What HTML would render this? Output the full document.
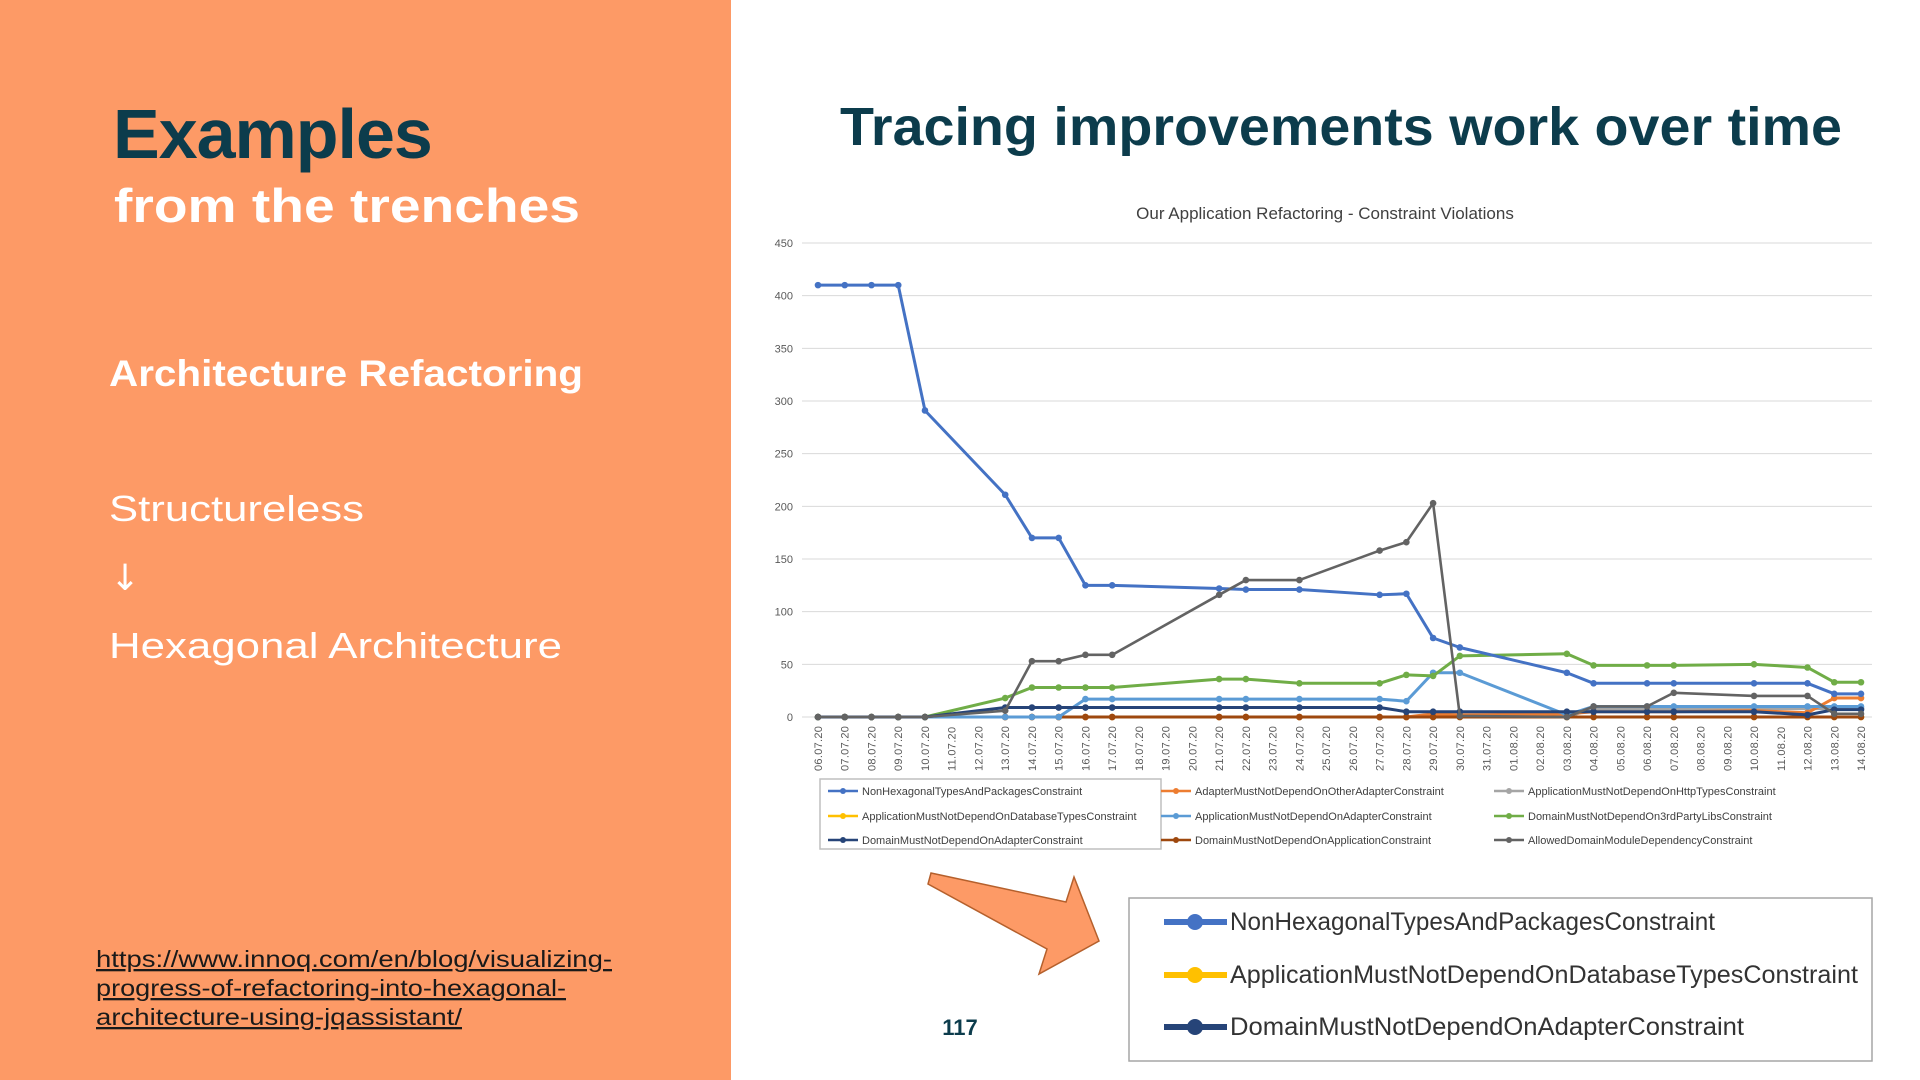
<!DOCTYPE html>
<html><head><meta charset="utf-8"><style>
html,body{margin:0;padding:0;width:1920px;height:1080px;overflow:hidden;background:#fff;font-family:"Liberation Sans",sans-serif}
</style></head><body>
<svg id="page" width="1920" height="1080" viewBox="0 0 1920 1080" xmlns="http://www.w3.org/2000/svg" font-family="Liberation Sans, sans-serif">
<rect x="0" y="0" width="731" height="1080" fill="#fd9a66"/>
<text x="113" y="158" font-size="70" font-weight="bold" fill="#0c3c4c" letter-spacing="-1">Examples</text>
<text x="114" y="222" font-size="47" font-weight="bold" fill="#fff" textLength="466" lengthAdjust="spacingAndGlyphs">from the trenches</text>
<text x="109" y="386" font-size="37" font-weight="bold" fill="#fff" textLength="474" lengthAdjust="spacingAndGlyphs">Architecture Refactoring</text>
<text x="109" y="521" font-size="36" fill="#fff" textLength="255" lengthAdjust="spacingAndGlyphs">Structureless</text>
<text x="110" y="590" font-size="36" fill="#fff" font-family="DejaVu Sans, sans-serif">↓</text>
<text x="109" y="658" font-size="36" fill="#fff" textLength="453" lengthAdjust="spacingAndGlyphs">Hexagonal Architecture</text>
<g font-size="23" fill="#1a1a1a" text-decoration="underline">
<text x="96" y="967" textLength="516" lengthAdjust="spacingAndGlyphs">https://www.innoq.com/en/blog/visualizing-</text>
<text x="96" y="996" textLength="470" lengthAdjust="spacingAndGlyphs">progress-of-refactoring-into-hexagonal-</text>
<text x="96" y="1025" textLength="366" lengthAdjust="spacingAndGlyphs">architecture-using-jqassistant/</text>
</g>
<text x="840" y="145" font-size="54" font-weight="bold" fill="#0c3c4c" textLength="1002" lengthAdjust="spacingAndGlyphs">Tracing improvements work over time</text>
<text x="1325" y="219" font-size="17" fill="#404040" text-anchor="middle">Our Application Refactoring - Constraint Violations</text>
<g id="grid"></g>
<g id="yticks" font-size="11" fill="#595959"></g>
<g id="xticks" font-size="11" fill="#595959"></g>
<g id="series"></g>
<rect x="820" y="779" width="341" height="70" fill="none" stroke="#bfbfbf" stroke-width="1.5"/>
<g id="legend" font-size="11" fill="#404040"></g>
<polygon points="931,873 1066,902 1074,877 1099,941 1039,974 1047,949 928,884" fill="#fd9a66" stroke="#b5602c" stroke-width="1.5"/>
<rect x="1129" y="898" width="743" height="163" fill="#fff" stroke="#a6a6a6" stroke-width="1.5"/>
<g id="biglegend" font-size="25" fill="#333"></g>
<text x="960" y="1035" font-size="22" font-weight="bold" fill="#0c3c4c" text-anchor="middle">117</text>
</svg>
<script>
const categories = ["06.07.20","07.07.20","08.07.20","09.07.20","10.07.20","11.07.20","12.07.20","13.07.20","14.07.20","15.07.20","16.07.20","17.07.20","18.07.20","19.07.20","20.07.20","21.07.20","22.07.20","23.07.20","24.07.20","25.07.20","26.07.20","27.07.20","28.07.20","29.07.20","30.07.20","31.07.20","01.08.20","02.08.20","03.08.20","04.08.20","05.08.20","06.08.20","07.08.20","08.08.20","09.08.20","10.08.20","11.08.20","12.08.20","13.08.20","14.08.20"];
const yTicks = [0,50,100,150,200,250,300,350,400,450];
const seriesNames = ["NonHexagonalTypesAndPackagesConstraint","AdapterMustNotDependOnOtherAdapterConstraint","ApplicationMustNotDependOnHttpTypesConstraint","ApplicationMustNotDependOnDatabaseTypesConstraint","ApplicationMustNotDependOnAdapterConstraint","DomainMustNotDependOn3rdPartyLibsConstraint","DomainMustNotDependOnAdapterConstraint","DomainMustNotDependOnApplicationConstraint","AllowedDomainModuleDependencyConstraint"];
const seriesColors = ["#4472c4","#ed7d31","#a5a5a5","#ffc000","#5b9bd5","#70ad47","#264478","#9e480e","#636363"];
const N = null;
const nonHexagonal =  [410,410,410,410,291,N,N,211,170,170,125,125,N,N,N,122,121,N,121,N,N,116,117,75,66,N,N,N,42,32,N,32,32,N,N,32,N,32,22,22];
const adapterOther =  [0,0,0,0,0,N,N,0,0,0,0,0,N,N,N,0,0,N,0,N,N,0,0,3,2,N,N,N,3,5,N,5,5,N,N,6,N,4,18,18];
const appHttp =       [0,0,0,0,0,N,N,0,0,0,0,0,N,N,N,0,0,N,0,N,N,0,0,0,0,N,N,N,0,8,N,8,8,N,N,8,N,8,8,8];
const appDatabase =   [0,0,0,0,0,N,N,0,0,0,0,0,N,N,N,0,0,N,0,N,N,0,0,0,0,N,N,N,0,0,N,0,0,N,N,0,N,0,0,0];
const appAdapter =    [0,0,0,0,0,N,N,0,0,0,17,17,N,N,N,17,17,N,17,N,N,17,15,42,42,N,N,N,2,10,N,10,10,N,N,10,N,10,10,10];
const domain3rdParty =[0,0,0,0,0,N,N,18,28,28,28,28,N,N,N,36,36,N,32,N,N,32,40,39,58,N,N,N,60,49,N,49,49,N,N,50,N,47,33,33];
const domainAdapter = [0,0,0,0,0,N,N,9,9,9,9,9,N,N,N,9,9,N,9,N,N,9,5,5,5,N,N,N,5,5,N,5,5,N,N,5,N,2,7,7];
const domainApp =     [0,0,0,0,0,N,N,0,0,0,0,0,N,N,N,0,0,N,0,N,N,0,0,0,0,N,N,N,0,0,N,0,0,N,N,0,N,0,0,0];
const allowedModule = [0,0,0,0,0,N,N,6,53,53,59,59,N,N,N,116,130,N,130,N,N,158,166,203,1,N,N,N,0,10,N,10,23,N,N,20,N,20,3,3];
const seriesValues = [nonHexagonal,adapterOther,appHttp,appDatabase,appAdapter,domain3rdParty,domainAdapter,domainApp,allowedModule];
const drawOrder = [3,2,1,7,4,5,0,6,8];
const bigLegendIdx = [0,3,6];

const NS="http://www.w3.org/2000/svg";
const X0=818,X1=1861,Y0=717,Y1=243,YMAX=450;
const xs=i=>X0+(X1-X0)*i/(categories.length-1);
const ys=v=>Y0-(Y0-Y1)*v/YMAX;
function mk(tag,attrs,parent){const e=document.createElementNS(NS,tag);for(const k in attrs)e.setAttribute(k,attrs[k]);parent.appendChild(e);return e;}
const grid=document.getElementById('grid'),yt=document.getElementById('yticks'),xt=document.getElementById('xticks');
yTicks.forEach(v=>{
  const l=mk('line',{x1:802,x2:1872,y1:ys(v),y2:ys(v),stroke:'#d9d9d9','stroke-width':1},grid);
  
  
  const t=mk('text',{x:793,y:ys(v)+4,'text-anchor':'end'},yt);t.textContent=v;
  
  
});
categories.forEach((c,i)=>{
  const x=xs(i)+4;
  const t=mk('text',{x:x,y:771,transform:`rotate(-90 ${x} 771)`,'letter-spacing':'0.3'},xt);t.textContent=c;
  
  
});
const sg=document.getElementById('series');
drawOrder.forEach(si=>{
  const vals=seriesValues[si],col=seriesColors[si];
  const pts=[];vals.forEach((v,i)=>{if(v!==null)pts.push([xs(i),ys(v)]);});
  const thin = si===8;
  const g=mk('g',{},sg);
  
  
  const p=mk('polyline',{points:pts.map(p=>p.join(',')).join(' '),fill:'none',stroke:col,'stroke-width':thin?2.6:3,'stroke-linejoin':'round'},g);
  
  
  pts.forEach(q=>{
    const c=mk('circle',{cx:q[0],cy:q[1],r:3.3,fill:col},g);
    
    
  });
});
const lg=document.getElementById('legend');
seriesNames.forEach((n,i)=>{
  const col=i%3,row=Math.floor(i/3);
  const x=[828,1161,1494][col],y=[791,816,840][row];
  const g=mk('g',{},lg);
  
  
  mk('line',{x1:x,x2:x+30,y1:y,y2:y,stroke:seriesColors[i],'stroke-width':2.5},g);
  mk('circle',{cx:x+15,cy:y,r:3,fill:seriesColors[i]},g);
  const t=mk('text',{x:x+34,y:y+4},g);t.textContent=n;
});
const bl=document.getElementById('biglegend');
bigLegendIdx.forEach((si,k)=>{
  const y=[922,975,1027][k];
  const g=mk('g',{},bl);
  
  
  mk('line',{x1:1164,x2:1227,y1:y,y2:y,stroke:seriesColors[si],'stroke-width':6},g);
  mk('circle',{cx:1195,cy:y,r:8,fill:seriesColors[si]},g);
  const w=[485,628,514][k];
  const t=mk('text',{x:1230,y:y+8,textLength:w,lengthAdjust:'spacingAndGlyphs'},g);t.textContent=seriesNames[si];
});
</script>
</body></html>
